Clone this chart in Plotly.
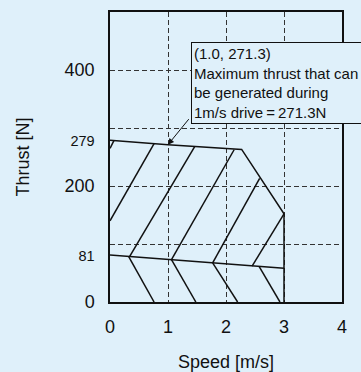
import plotly.graph_objects as go

BG = "#dff0fa"
INK = "#111111"

# ---- data ----
speed_ticks = [0, 1, 2, 3, 4]
thrust_ticks = [0, 81, 200, 279, 400]
thrust_tick_small = [False, True, False, True, False]
thrust_grid = [100, 200, 300, 400]

# outline of the operating region
upper_x = [0, 1.0, 2.27, 3.0, 3.0]
upper_y = [279, 271.3, 263, 152, 0]
lower_x = [0, 3.0]
lower_y = [81, 58]

# hatch segments in the upper region (rising)
up_hatch_x0 = [0, 0, 0.34, 1.06, 1.77, 2.45]
up_hatch_y0 = [265, 140, 78.5, 73, 67.5, 62]
up_hatch_x1 = [0.07, 0.76, 1.46, 2.14, 2.58, 3.0]
up_hatch_y1 = [278.5, 273, 268, 262.5, 213, 152]

# hatch segments in the lower region (falling)
low_hatch_x0 = [0.32, 1.06, 1.77, 2.57]
low_hatch_y0 = [78.5, 73, 67.5, 61.5]
low_hatch_x1 = [0.76, 1.48, 2.2, 2.93]
low_hatch_y1 = [0, 0, 0, 0]

peak_speed = 1.0
peak_thrust = 271.3
note_lines = ["(1.0, 271.3)", "Maximum thrust that can", "be generated during", "1m/s drive\u2009=\u2009271.3N"]


def segs(x0, y0, x1, y1):
    xs, ys = [], []
    for a, b, c, d in zip(x0, y0, x1, y1):
        xs += [a, c, None]
        ys += [b, d, None]
    return xs, ys


fig = go.Figure()
line = dict(color=INK, width=1.5)
fig.add_trace(go.Scatter(x=upper_x, y=upper_y, mode="lines", line=line, hoverinfo="skip"))
fig.add_trace(go.Scatter(x=lower_x, y=lower_y, mode="lines", line=line, hoverinfo="skip"))
hx, hy = segs(up_hatch_x0, up_hatch_y0, up_hatch_x1, up_hatch_y1)
fig.add_trace(go.Scatter(x=hx, y=hy, mode="lines", line=line, hoverinfo="skip"))
lx, ly = segs(low_hatch_x0, low_hatch_y0, low_hatch_x1, low_hatch_y1)
fig.add_trace(go.Scatter(x=lx, y=ly, mode="lines", line=line, hoverinfo="skip"))

ytext = [f"<span style='font-size:14.5px'>{v}</span>" if s else str(v)
         for v, s in zip(thrust_ticks, thrust_tick_small)]

grid = dict(color="#333333", width=1, dash="5px,3px")

fig.update_layout(
    width=361, height=372,
    margin=dict(l=110, r=19, t=12, b=70),
    paper_bgcolor=BG, plot_bgcolor=BG,
    showlegend=False,
    font=dict(family="Arial", size=18, color=INK),
    xaxis=dict(
        range=[0, 4], tickmode="array", tickvals=speed_ticks,
        ticktext=[str(v) for v in speed_ticks],
        showline=True, mirror=True, linecolor=INK, linewidth=1.5,
        showgrid=True, gridcolor=grid["color"], gridwidth=1, griddash=grid["dash"],
        zeroline=False, ticks="", ticklabelstandoff=8, automargin=False,
        title=dict(text="Speed [m/s]", standoff=27, font=dict(size=18)),
        fixedrange=True,
    ),
    yaxis=dict(
        range=[0, 500], tickmode="array", tickvals=thrust_ticks, ticktext=ytext,
        showline=True, mirror=True, linecolor=INK, linewidth=1.5,
        showgrid=False, zeroline=False, ticks="", ticklabelstandoff=10, automargin=False,
        minor=dict(tickmode="array", tickvals=thrust_grid, showgrid=True,
                   gridcolor=grid["color"], gridwidth=1, griddash=grid["dash"], ticks=""),
        title=dict(text="Thrust [N]", standoff=30, font=dict(size=18)),
        fixedrange=True,
    ),
)

fig.add_annotation(
    x=peak_speed, y=peak_thrust, xref="x", yref="y", text="",
    showarrow=True, ax=22, ay=-27, arrowhead=2, arrowsize=1.2,
    arrowwidth=1, arrowcolor=INK, standoff=0,
)
fig.add_annotation(
    x=1.39, y=448, xref="x", yref="y", xanchor="left", yanchor="top",
    text="<br>".join(note_lines), align="left", showarrow=False,
    font=dict(size=15, color=INK), bgcolor=BG, bordercolor=INK,
    borderwidth=1, borderpad=2, width=185,
)

fig.write_html(
    "out.html",
    config={"displayModeBar": False},
    post_script="document.body.style.margin='0';document.body.style.background='%s';" % BG,
)
